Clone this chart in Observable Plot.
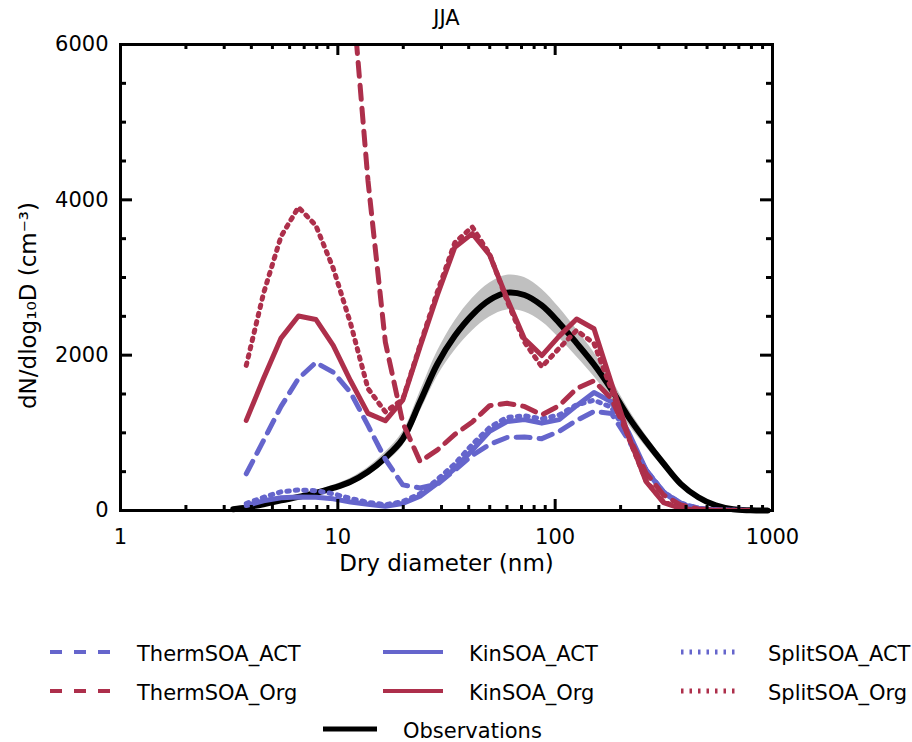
<!DOCTYPE html>
<html><head><meta charset="utf-8">
<script src="https://cdn.jsdelivr.net/npm/d3@7"></script>
<script src="https://cdn.jsdelivr.net/npm/@observablehq/plot@0.6"></script>
<style>
body{margin:0;background:#fff;font-family:"DejaVu Sans",sans-serif;}
#wrap{position:relative;width:912px;height:742px;overflow:hidden;background:#fff;}
.lgt{position:absolute;font-size:21px;line-height:24px;color:#000;white-space:nowrap;}
.lgs{position:absolute;}
</style></head><body><div id="wrap"></div>
<script>
// ---- data ----
const title = "JJA";
const xLabel = "Dry diameter (nm)";
const yLabel = "dN/dlog\u2081\u2080D (cm\u207B\u00B3)";
const xTickLabels = [1, 10, 100, 1000];
const xMinorTicks = [2,3,4,5,6,7,8,9,20,30,40,50,60,70,80,90,200,300,400,500,600,700,800,900];
const yTickLabels = [0, 2000, 4000, 6000];
const yMinorTicks = [500,1000,1500,2500,3000,3500,4500,5000,5500];

const diameters = [3.79, 4.55, 5.48, 6.59, 7.92, 9.52, 11.44, 13.76, 16.54, 19.89, 23.90, 28.74, 34.55, 41.55, 49.95, 60.05, 72.20, 86.8, 104.4, 125.5, 150.9, 181.4, 218.1, 262.2, 315.2, 379.0, 455.6, 547.8, 658.6, 791.8];

const thermAct = [473, 900, 1340, 1700, 1905, 1780, 1520, 1095, 660, 330, 290, 340, 520, 710, 850, 940, 945, 925, 1020, 1160, 1275, 1250, 900, 520, 240, 95, 30, 10, 3, 0];
const thermOrg = [null, null, null, null, null, null, 6950, 4250, 2170, 1130, 630, 780, 980, 1140, 1350, 1380, 1340, 1230, 1350, 1570, 1670, 1440, 950, 480, 200, 70, 20, 5, 1, 0];
const kinAct = [64, 125, 165, 175, 170, 150, 110, 80, 55, 90, 185, 350, 540, 775, 1020, 1145, 1170, 1125, 1170, 1350, 1520, 1400, 1000, 520, 230, 80, 25, 8, 2, 0];
const kinOrg = [1160, 1700, 2220, 2505, 2460, 2125, 1670, 1250, 1155, 1420, 2110, 2780, 3390, 3565, 3290, 2730, 2210, 1995, 2245, 2465, 2340, 1640, 950, 370, 100, 26, 6, 2, 0, 0];
const splitAct = [90, 170, 240, 265, 255, 215, 155, 105, 75, 115, 215, 400, 600, 850, 1070, 1200, 1220, 1180, 1230, 1360, 1420, 1330, 950, 520, 240, 90, 30, 10, 3, 0];
const splitOrg = [1868, 2795, 3530, 3905, 3670, 3120, 2410, 1570, 1270, 1430, 2130, 2820, 3450, 3650, 3300, 2700, 2170, 1850, 2090, 2320, 2150, 1560, 930, 380, 110, 30, 8, 2, 0, 0];

const obsDiameters = [3.3, 3.79, 4.55, 5.48, 6.59, 7.92, 9.52, 11.44, 13.76, 16.54, 19.89, 23.90, 28.74, 34.55, 41.55, 49.95, 60.05, 72.20, 86.8, 104.4, 125.5, 150.9, 181.4, 218.1, 262.2, 315.2, 379.0, 455.6, 547.8, 658.6, 791.8, 950];
const obsValues = [15, 40, 80, 130, 175, 225, 290, 370, 500, 680, 920, 1400, 1890, 2250, 2520, 2710, 2805, 2775, 2640, 2415, 2155, 1880, 1560, 1200, 890, 605, 340, 170, 65, 15, 3, 0];
const obsLow = [10, 30, 65, 110, 150, 195, 255, 325, 445, 610, 830, 1270, 1730, 2060, 2310, 2490, 2580, 2555, 2430, 2220, 1980, 1725, 1430, 1100, 815, 550, 305, 150, 55, 10, 0, 0];
const obsHigh = [20, 50, 95, 150, 200, 255, 325, 415, 555, 750, 1010, 1530, 2050, 2440, 2730, 2930, 3030, 3000, 2850, 2610, 2330, 2035, 1690, 1300, 965, 660, 375, 190, 75, 20, 5, 0];

const seriesNames = ["ThermSOA_ACT", "ThermSOA_Org", "KinSOA_ACT", "KinSOA_Org", "SplitSOA_ACT", "SplitSOA_Org"];
const seriesValues = [thermAct, thermOrg, kinAct, kinOrg, splitAct, splitOrg];
const obsName = "Observations";

// ---- styles ----
const BLUE = "#6565cc", RED = "#ad2f4b";
const styles = {
  ThermSOA_ACT: {stroke: BLUE, dash: "14,9", w: 5},
  ThermSOA_Org: {stroke: RED, dash: "14,9", w: 5},
  KinSOA_ACT: {stroke: BLUE, dash: null, w: 5},
  KinSOA_Org: {stroke: RED, dash: null, w: 5},
  SplitSOA_ACT: {stroke: BLUE, dash: "2.5,6", w: 5},
  SplitSOA_Org: {stroke: RED, dash: "2.5,6", w: 5}
};
const drawOrder = ["KinSOA_ACT", "SplitSOA_ACT", "ThermSOA_ACT", "ThermSOA_Org", "KinSOA_Org", "SplitSOA_Org"];

const obsRows = obsDiameters.map((d, i) => ({d, v: obsValues[i], lo: obsLow[i], hi: obsHigh[i]}));
const modelRows = seriesNames.flatMap((name, s) => diameters.map((d, i) => ({series: name, d, v: seriesValues[s][i]})));

const W = 912, H = 600, mt = 44, mb = 90, ml = 120, mr = 140;
const frameH = H - mt - mb, frameW = W - ml - mr;
const tickStyle = {stroke: "#000", strokeWidth: 3};

const modelMarks = drawOrder.map(name => Plot.line(modelRows.filter(r => r.series === name), {
  x: "d", y: "v", stroke: styles[name].stroke, strokeWidth: styles[name].w,
  strokeDasharray: styles[name].dash, strokeLinejoin: "round", clip: true
}));

const plot = Plot.plot({
  width: W, height: H,
  marginLeft: ml, marginRight: mr, marginTop: mt, marginBottom: mb,
  style: {fontFamily: "DejaVu Sans", fontSize: "21px", color: "#000", background: "#fff", overflow: "visible"},
  x: {type: "log", domain: [1, 1000], axis: null},
  y: {domain: [0, 6000], axis: null},
  marks: [
    Plot.areaY(obsRows, {x: "d", y1: "lo", y2: "hi", fill: "#c0c0c0", curve: "catmull-rom"}),
    Plot.line(obsRows, {x: "d", y: "v", stroke: "#000", strokeWidth: 6, curve: "catmull-rom"}),
    ...modelMarks,
    Plot.frame({stroke: "#000", strokeWidth: 3}),
    // inward ticks
    Plot.ruleX(xTickLabels, {x: d => d, insetTop: frameH - 11, ...tickStyle}),
    Plot.ruleX(xTickLabels, {x: d => d, insetBottom: frameH - 11, ...tickStyle}),
    Plot.ruleX(xMinorTicks, {x: d => d, insetTop: frameH - 5, ...tickStyle}),
    Plot.ruleX(xMinorTicks, {x: d => d, insetBottom: frameH - 5, ...tickStyle}),
    Plot.ruleY(yTickLabels, {y: d => d, insetRight: frameW - 12, ...tickStyle}),
    Plot.ruleY(yTickLabels, {y: d => d, insetLeft: frameW - 12, ...tickStyle}),
    Plot.ruleY(yMinorTicks, {y: d => d, insetRight: frameW - 6, ...tickStyle}),
    Plot.ruleY(yMinorTicks, {y: d => d, insetLeft: frameW - 6, ...tickStyle}),
    // labels
    Plot.text(xTickLabels, {x: d => d, frameAnchor: "bottom", dy: 27, lineAnchor: "middle", text: d => String(d), fontSize: 21, fill: "#000"}),
    Plot.text(yTickLabels, {y: d => d, frameAnchor: "left", dx: -12, textAnchor: "end", lineAnchor: "middle", text: d => String(d), fontSize: 21, fill: "#000"}),
    Plot.text([title], {frameAnchor: "top", dy: -26, textAnchor: "middle", lineAnchor: "middle", text: d => d, fontSize: 21, fill: "#000"}),
    Plot.text([xLabel], {frameAnchor: "bottom", dy: 53, textAnchor: "middle", lineAnchor: "middle", text: d => d, fontSize: 23, fill: "#000"}),
    Plot.text([yLabel], {frameAnchor: "left", dx: -92, dy: 28, rotate: -90, textAnchor: "middle", lineAnchor: "middle", text: d => d, fontSize: 23, fill: "#000"})
  ]
});
const wrap = document.getElementById("wrap");
plot.style.position = "absolute";
plot.style.left = "0px";
plot.style.top = "0px";
wrap.appendChild(plot);

// ---- legend (below the SVG) ----
const legendItems = [
  {name: "ThermSOA_ACT", sx: 50, sw: 60, tx: 137, cy: 652},
  {name: "ThermSOA_Org", sx: 50, sw: 60, tx: 137, cy: 691},
  {name: "KinSOA_ACT", sx: 383, sw: 60, tx: 469, cy: 652},
  {name: "KinSOA_Org", sx: 383, sw: 60, tx: 469, cy: 691},
  {name: "SplitSOA_ACT", sx: 681, sw: 54, tx: 768, cy: 652},
  {name: "SplitSOA_Org", sx: 681, sw: 54, tx: 768, cy: 691},
  {name: obsName, sx: 323, sw: 54, tx: 403, cy: 729}
];
const ns = "http://www.w3.org/2000/svg";
for (const it of legendItems) {
  const st = styles[it.name] || {stroke: "#000", dash: null, w: 5};
  const svg = document.createElementNS(ns, "svg");
  svg.setAttribute("class", "lgs");
  svg.setAttribute("width", it.sw);
  svg.setAttribute("height", 12);
  svg.style.left = it.sx + "px";
  svg.style.top = (it.cy - 6) + "px";
  const ln = document.createElementNS(ns, "line");
  ln.setAttribute("x1", 0); ln.setAttribute("x2", it.sw);
  ln.setAttribute("y1", 6); ln.setAttribute("y2", 6);
  ln.setAttribute("stroke", st.stroke);
  ln.setAttribute("stroke-width", st.dash === "2.5,6" ? 5 : (it.name === obsName ? 5 : 4));
  if (st.dash === "14,9") ln.setAttribute("stroke-dasharray", "12,12");
  else if (st.dash) ln.setAttribute("stroke-dasharray", "2.5,6");
  svg.appendChild(ln);
  wrap.appendChild(svg);
  const t = document.createElement("div");
  t.className = "lgt";
  t.textContent = it.name;
  t.style.left = it.tx + "px";
  t.style.top = (it.cy - 10) + "px";
  wrap.appendChild(t);
}
</script></body></html>
